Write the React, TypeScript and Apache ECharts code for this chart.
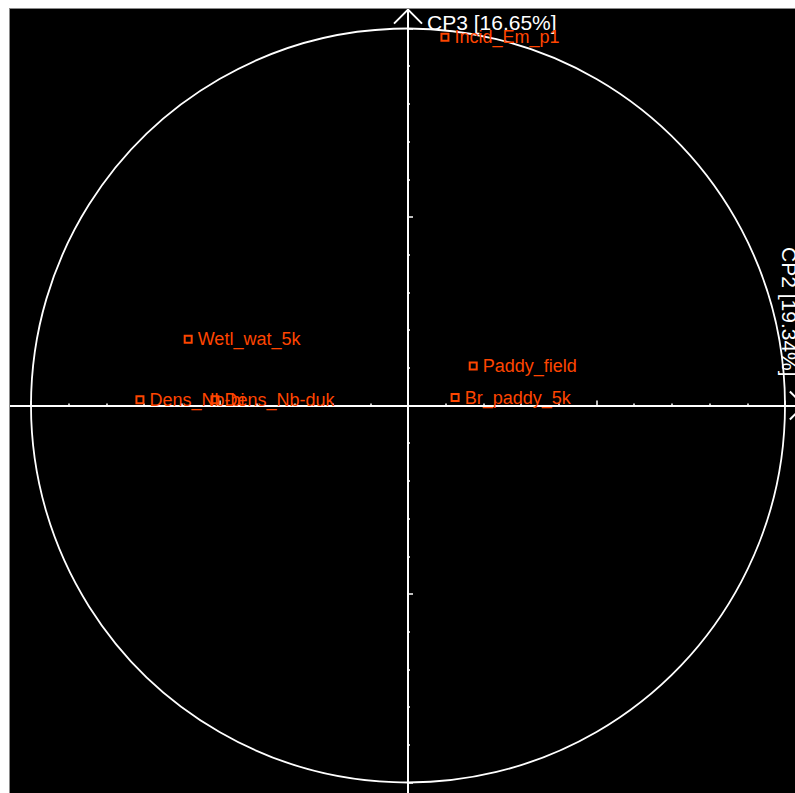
import React, { useEffect, useRef } from "react";
import * as echarts from "echarts";

const pointNames = ["Incid_Em_p1", "Wetl_wat_5k", "Dens_Nb-bi", "Dens_Nb-duk", "Paddy_field", "Br_paddy_5k"];
const cp2Values = [0.098, -0.583, -0.711, -0.512, 0.173, 0.125];
const cp3Values = [0.977, 0.176, 0.015, 0.015, 0.105, 0.021];
const axisNameX = "CP2 [19.34%]";
const axisNameY = "CP3 [16.65%]";

const FONT = '"Liberation Sans", Arial, sans-serif';
const ORANGE = "#ff4500";

export default function App() {
  const ref = useRef<HTMLDivElement>(null);
  useEffect(() => {
    if (!ref.current) return;
    const chart = echarts.init(ref.current, undefined, { renderer: "svg" });
    const axisCommon = {
      type: "value",
      min: -1.5,
      max: 1.5,
      interval: 0.5,
      axisLine: { onZero: true, lineStyle: { color: "#fff", width: 2 } },
      axisTick: { show: true, inside: true, length: 5, lineStyle: { color: "#fff", width: 1.5 } },
      minorTick: { show: true, splitNumber: 5, length: 2, lineStyle: { color: "#fff", width: 1.5 } },
      axisLabel: { show: false },
      splitLine: { show: false },
      minorSplitLine: { show: false },
    };
    chart.setOption({
      animation: false,
      backgroundColor: "#000",
      grid: {
        left: -167.5,
        top: -169,
        width: 1131,
        height: 1131,
        containLabel: false,
        outerBoundsMode: "none",
      },
      xAxis: { ...axisCommon },
      yAxis: { ...axisCommon },
      series: [
        {
          type: "custom",
          data: [[0, 0]],
          silent: true,
          clip: false,
          z: 1,
          renderItem: (params: any, api: any) => {
            const c = api.coord([0, 0]);
            const e = api.coord([1, 0]);
            const r = e[0] - c[0];
            const top = api.coord([0, 1.05]);
            const right = api.coord([1.05, 0]);
            const a = 14;
            return {
              type: "group",
              children: [
                {
                  type: "circle",
                  shape: { cx: c[0], cy: c[1], r },
                  style: { fill: "none", stroke: "#fff", lineWidth: 1.8 },
                },
                {
                  type: "polyline",
                  shape: { points: [[top[0] - a, top[1] + a], [top[0], top[1]], [top[0] + a, top[1] + a]] },
                  style: { fill: "none", stroke: "#fff", lineWidth: 2 },
                },
                {
                  type: "polyline",
                  shape: { points: [[right[0] - a, right[1] - a], [right[0], right[1]], [right[0] - a, right[1] + a]] },
                  style: { fill: "none", stroke: "#fff", lineWidth: 2 },
                },
              ],
            };
          },
        },
        {
          type: "scatter",
          z: 3,
          symbol: "rect",
          symbolSize: 7,
          itemStyle: { color: "#000", borderColor: ORANGE, borderWidth: 2, opacity: 1 },
          label: {
            show: true,
            position: "right",
            distance: 5,
            formatter: "{b}",
            color: ORANGE,
            opacity: 1,
            fontSize: 18,
            fontFamily: FONT,
          },
          data: pointNames.map((n, i) => ({ name: n, value: [cp2Values[i], cp3Values[i]] })),
        },
      ],
      graphic: [
        {
          type: "text",
          x: 417,
          y: 13.7,
          style: { text: axisNameY, font: `21px ${FONT}`, fill: "#fff", align: "left", verticalAlign: "middle" },
        },
        {
          type: "text",
          x: 779.3,
          y: 238,
          rotation: -Math.PI / 2,
          style: { text: axisNameX, font: `21px ${FONT}`, fill: "#fff", align: "left", verticalAlign: "middle" },
        },
      ],
    });
    return () => chart.dispose();
  }, []);
  return (
    <div style={{ position: "absolute", left: 0, top: 0, width: 795, height: 793, background: "#fff", overflow: "hidden" }}>
      <div style={{ position: "absolute", left: 9, top: 8, width: 786, height: 785, background: "#8a8a8a" }}>
        <div ref={ref} style={{ position: "absolute", left: 1, top: 1, width: 785, height: 784 }} />
      </div>
    </div>
  );
}
